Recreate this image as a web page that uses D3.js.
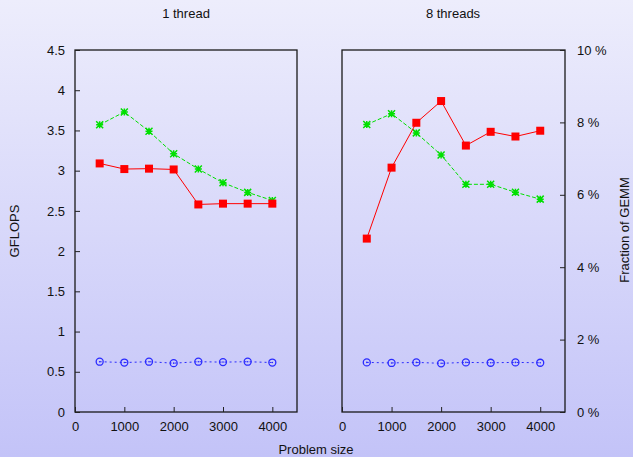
<!DOCTYPE html>
<html>
<head>
<meta charset="utf-8">
<script src="https://cdn.jsdelivr.net/npm/d3@7"></script>
<style>
  body { margin: 0; }
  svg { display: block; font-family: "Liberation Sans", Arial, sans-serif; }
</style>
</head>
<body>
<div id="chart"></div>
<script>
// problem sizes
const sizes = [500, 1000, 1500, 2000, 2500, 3000, 3500, 4000];

// 1 thread, GFLOPS
const red1 = [3.09, 3.02, 3.025, 3.015, 2.58, 2.59, 2.59, 2.59];
const green1 = [3.57, 3.73, 3.49, 3.21, 3.02, 2.85, 2.73, 2.63];
const blue1 = [0.625, 0.615, 0.625, 0.607, 0.625, 0.62, 0.625, 0.615];

// 8 threads, fraction of GEMM (%)
const red8 = [4.79, 6.75, 7.99, 8.59, 7.36, 7.74, 7.61, 7.77];
const green8 = [7.94, 8.24, 7.71, 7.10, 6.29, 6.29, 6.07, 5.88];
const blue8 = [1.37, 1.355, 1.37, 1.345, 1.37, 1.36, 1.37, 1.36];

const xTicks = [0, 1000, 2000, 3000, 4000];
const gflopTicks = [0, 0.5, 1, 1.5, 2, 2.5, 3, 3.5, 4, 4.5];
const pctTicks = [0, 2, 4, 6, 8, 10];

const width = 633, height = 457;
const plotTop = 50, plotBottom = 412;

const svg = d3.select("#chart").append("svg")
  .attr("width", width)
  .attr("height", height);

const grad = svg.append("defs").append("linearGradient")
  .attr("id", "bg").attr("x1", 0).attr("y1", 0).attr("x2", 0).attr("y2", 1);
grad.append("stop").attr("offset", "0%").attr("stop-color", "#ededfc");
grad.append("stop").attr("offset", "100%").attr("stop-color", "#c3c3f8");
svg.append("rect").attr("width", width).attr("height", height).attr("fill", "url(#bg)");

const xL = d3.scaleLinear().domain([0, 4500]).range([75, 297]);
const xR = d3.scaleLinear().domain([0, 4500]).range([342, 565]);
const yL = d3.scaleLinear().domain([0, 4.5]).range([plotBottom, plotTop]);
const yR = d3.scaleLinear().domain([0, 10]).range([plotBottom, plotTop]);

const styles = {
  red: { color: "#ff0000", dash: null },
  green: { color: "#00e000", dash: "4,2" },
  blue: { color: "#2a2aff", dash: "2,3" }
};

function frame(x) {
  svg.append("rect")
    .attr("x", x.range()[0]).attr("y", plotTop)
    .attr("width", x.range()[1] - x.range()[0]).attr("height", plotBottom - plotTop)
    .attr("fill", "none").attr("stroke", "#1a1a1a").attr("stroke-width", 1.3);
  // bottom axis, ticks inward
  const ax = svg.append("g").attr("transform", `translate(0,${plotBottom})`)
    .call(d3.axisBottom(x).tickValues(xTicks).tickSize(-5).tickPadding(10).tickFormat(d3.format("d")));
  ax.select(".domain").remove();
  ax.selectAll("line").attr("stroke", "#222");
  ax.selectAll("text").attr("font-size", 13).attr("fill", "#111").attr("font-family", null);
}

function series(x, y, vals, st, marker) {
  const line = d3.line().x((d, i) => x(sizes[i])).y(d => y(d));
  svg.append("path").datum(vals)
    .attr("d", line).attr("fill", "none")
    .attr("stroke", st.color).attr("stroke-width", 1)
    .attr("stroke-dasharray", st.dash);
  const g = svg.append("g");
  vals.forEach((v, i) => {
    const cx = x(sizes[i]), cy = y(v);
    if (marker === "square") {
      g.append("rect").attr("x", cx - 4).attr("y", cy - 4).attr("width", 8).attr("height", 8)
        .attr("fill", st.color);
    } else if (marker === "star") {
      const s = 3.5;
      g.append("path")
        .attr("d", `M${cx - s},${cy - s}L${cx + s},${cy + s}M${cx - s},${cy + s}L${cx + s},${cy - s}M${cx - s},${cy}L${cx + s},${cy}M${cx},${cy - s}L${cx},${cy + s}`)
        .attr("stroke", st.color).attr("stroke-width", 1.5);
    } else {
      g.append("circle").attr("cx", cx).attr("cy", cy).attr("r", 3.5)
        .attr("fill", "none").attr("stroke", st.color).attr("stroke-width", 1.3);
      g.append("circle").attr("cx", cx).attr("cy", cy).attr("r", 0.8).attr("fill", st.color);
    }
  });
}

// left panel
frame(xL);
const ayL = svg.append("g").attr("transform", "translate(75,0)")
  .call(d3.axisLeft(yL).tickValues(gflopTicks).tickSize(-5).tickPadding(10).tickFormat(d => d));
ayL.select(".domain").remove();
ayL.selectAll("line").attr("stroke", "#222");
ayL.selectAll("text").attr("font-size", 13).attr("fill", "#111").attr("font-family", null);

series(xL, yL, green1, styles.green, "star");
series(xL, yL, red1, styles.red, "square");
series(xL, yL, blue1, styles.blue, "circle");

// right panel
frame(xR);
const ayR = svg.append("g").attr("transform", "translate(565,0)")
  .call(d3.axisRight(yR).tickValues(pctTicks).tickSize(-5).tickPadding(12).tickFormat(d => d + " %"));
ayR.select(".domain").remove();
ayR.selectAll("line").attr("stroke", "#222");
ayR.selectAll("text").attr("font-size", 13).attr("fill", "#111").attr("font-family", null);

series(xR, yR, green8, styles.green, "star");
series(xR, yR, red8, styles.red, "square");
series(xR, yR, blue8, styles.blue, "circle");

// titles and labels
const txt = (x, y, s, rot) => svg.append("text")
  .attr("transform", `translate(${x},${y})` + (rot ? ` rotate(${rot})` : ""))
  .attr("text-anchor", "middle").attr("font-size", 13).attr("fill", "#111").text(s);

txt(186, 18, "1 thread");
txt(453, 18, "8 threads");
txt(316, 454, "Problem size");
txt(19, 231, "GFLOPS", -90);
txt(629, 230, "Fraction of GEMM", -90);
</script>
</body>
</html>
